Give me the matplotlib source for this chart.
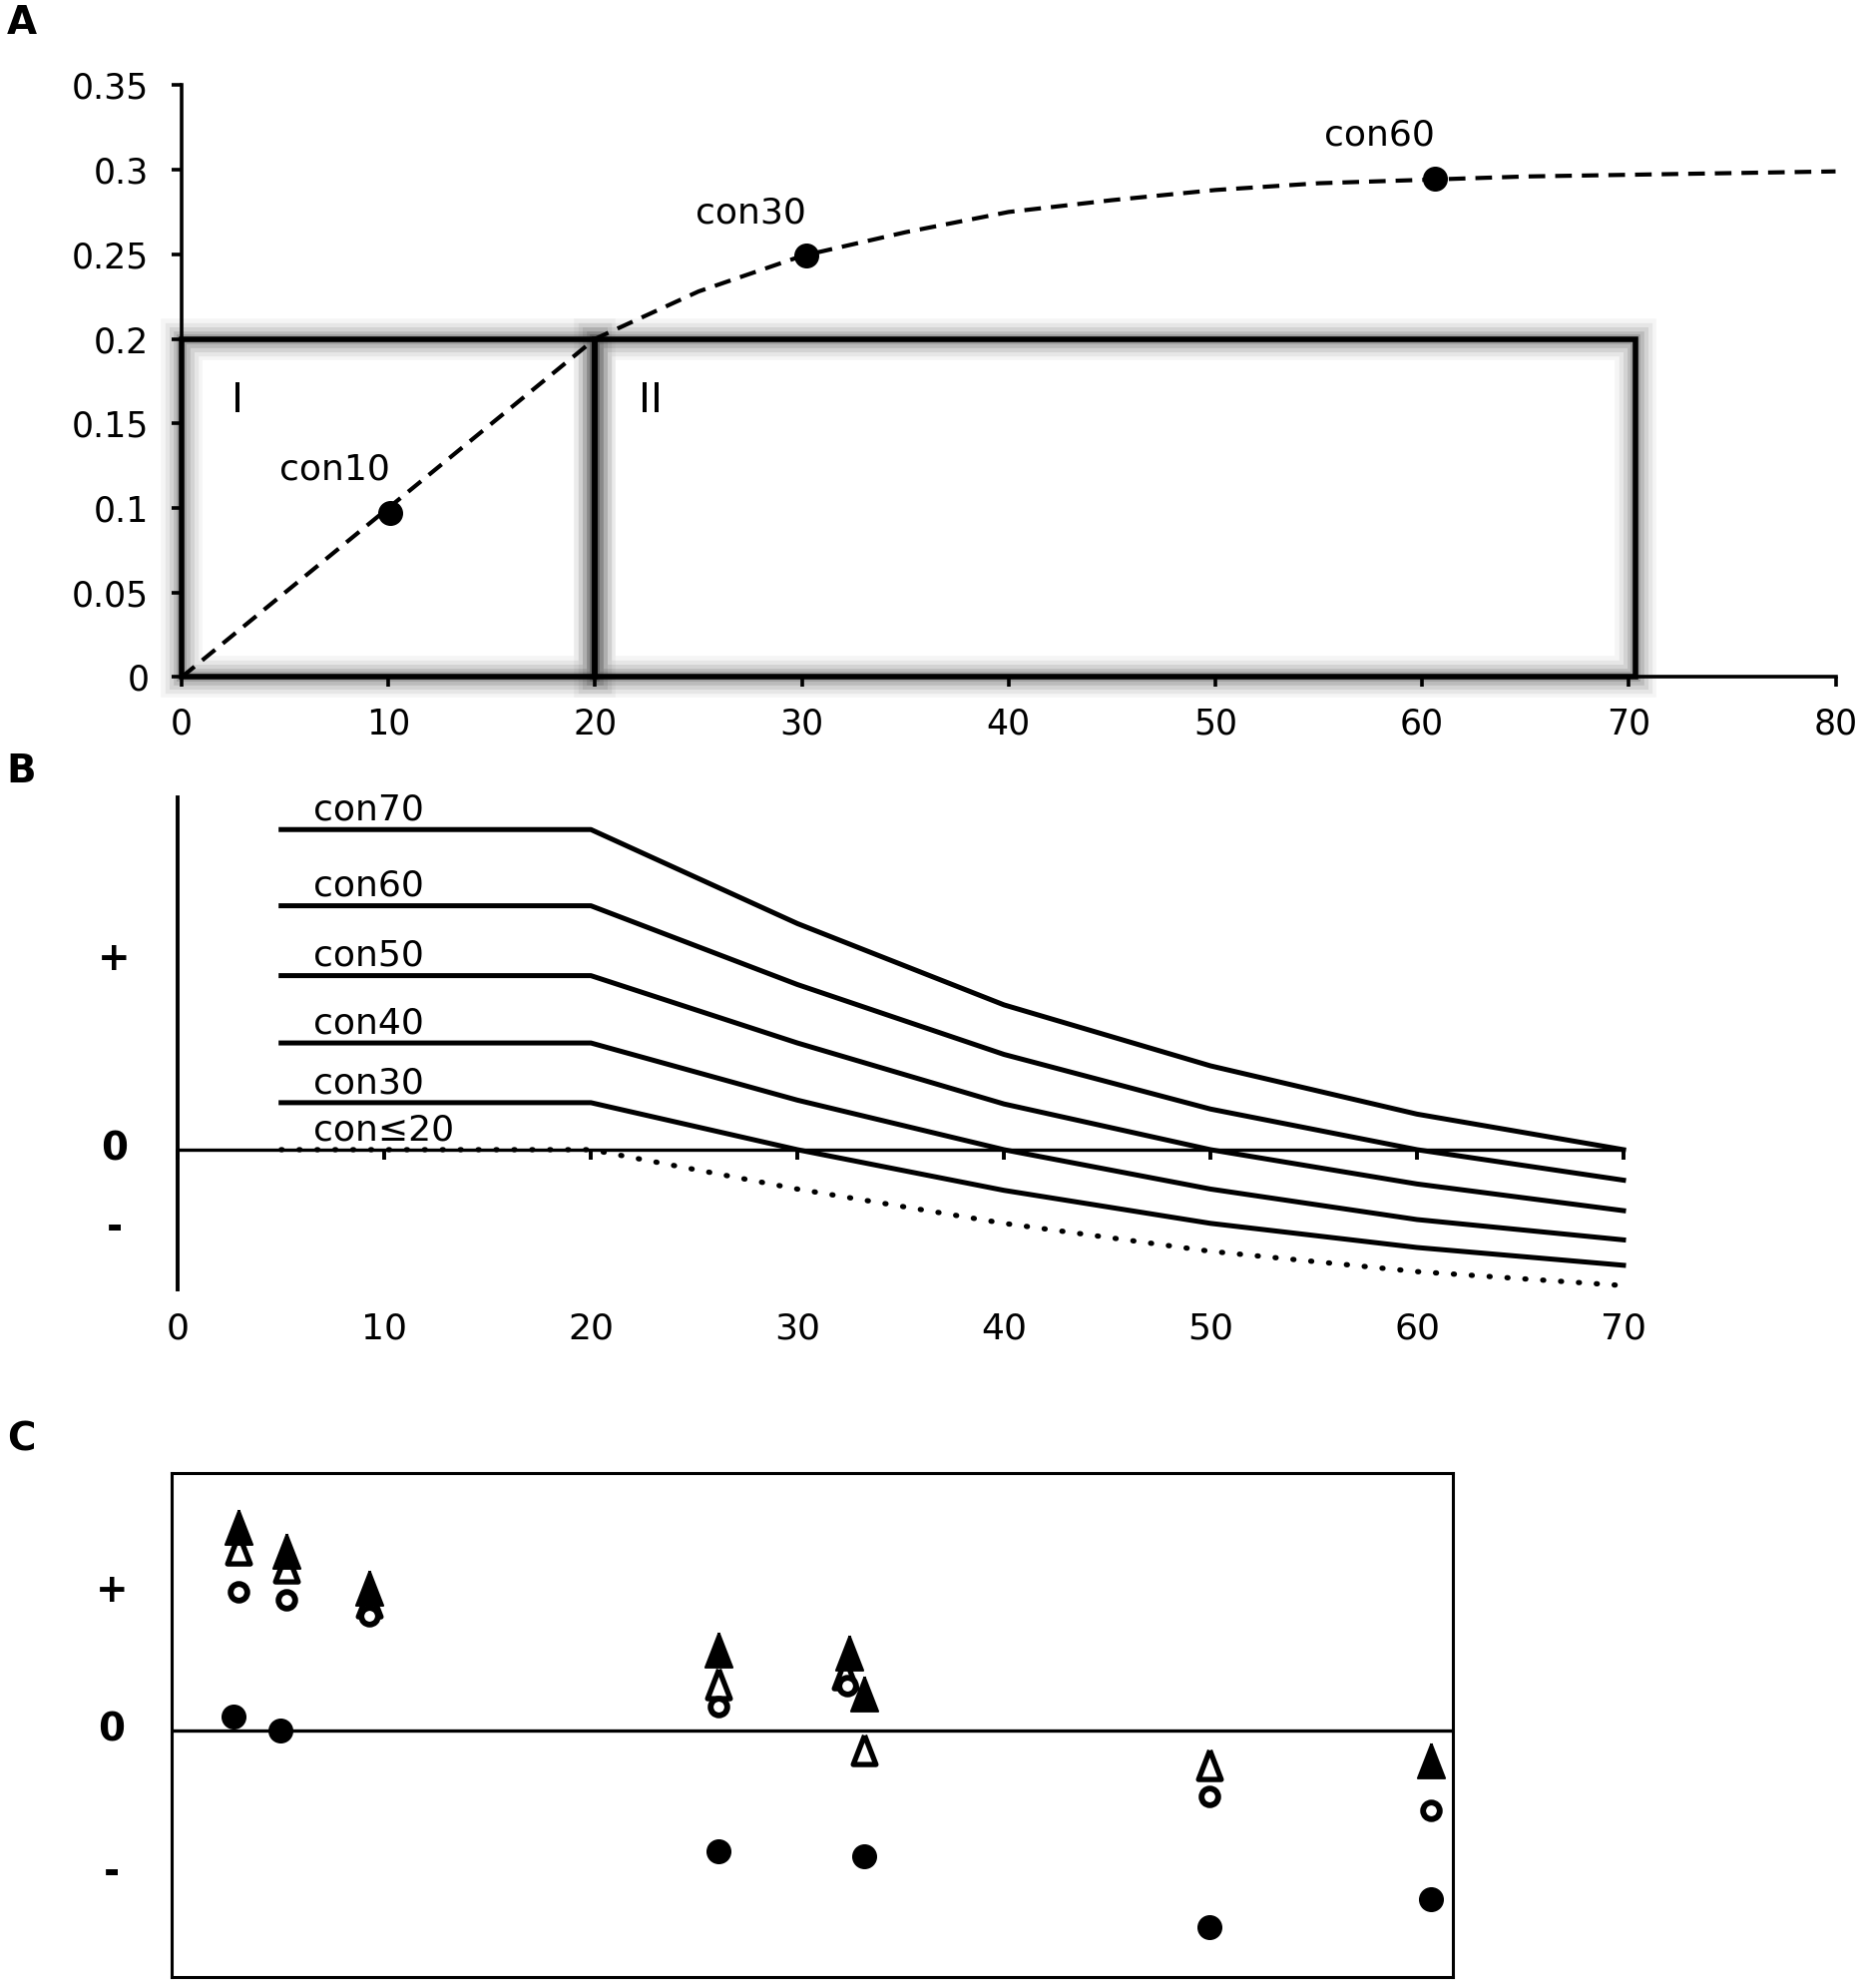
import matplotlib
matplotlib.use('Agg')
import matplotlib.pyplot as plt
import matplotlib.patheffects as pe
from matplotlib.patches import Rectangle
from matplotlib.transforms import blended_transform_factory

plt.rcParams['font.family'] = ['DejaVu Sans']

# ---------------- Panel A data ----------------
a_curve_x = [0, 5, 10, 15, 20, 25, 30, 35, 40, 45, 50, 55, 60, 65, 70, 75, 80]
a_curve_y = [0, 0.05, 0.10, 0.15, 0.20, 0.228, 0.249, 0.263, 0.275, 0.282,
             0.288, 0.292, 0.294, 0.296, 0.297, 0.298, 0.299]
a_point_labels = ['con10', 'con30', 'con60']
a_point_x = [10.1, 30.2, 60.6]
a_point_y = [0.097, 0.249, 0.295]
a_region_labels = ['I', 'II']
a_region_start = [0, 20]
a_region_end = [20, 70.3]
a_region_top = 0.2
a_xticks = [0, 10, 20, 30, 40, 50, 60, 70, 80]
a_yticks = [0, 0.05, 0.10, 0.15, 0.20, 0.25, 0.30, 0.35]
a_yticklabels = ['0', '0.05', '0.1', '0.15', '0.2', '0.25', '0.3', '0.35']

# ---------------- Panel B data ----------------
b_x = [5, 20, 30, 40, 50, 60, 70]
b_labels = ['con70', 'con60', 'con50', 'con40', 'con30', 'con≤20']
b_con70 = [25.2, 25.2, 17.8, 11.4, 6.6, 2.8, 0.0]
b_con60 = [19.2, 19.2, 13.0, 7.5, 3.2, 0.0, -2.4]
b_con50 = [13.7, 13.7, 8.4, 3.6, 0.0, -2.7, -4.8]
b_con40 = [8.4, 8.4, 3.9, 0.0, -3.1, -5.5, -7.1]
b_con30 = [3.7, 3.7, 0.0, -3.2, -5.8, -7.7, -9.1]
b_con20 = [0.0, 0.0, -3.1, -5.8, -8.0, -9.6, -10.7]
b_xticks = [0, 10, 20, 30, 40, 50, 60, 70]
b_sign_labels = ['+', '0', '-']
b_sign_y = [15.0, 0.0, -6.2]

# ---------------- Panel C data ----------------
c_ftri_x = [5.25, 9.0, 15.4, 42.7, 52.9, 54.1, 98.3]
c_ftri_y = [16.0, 14.1, 11.2, 6.35, 6.1, 2.9, -2.4]
c_otri_x = [5.25, 9.0, 15.4, 42.7, 52.6, 54.1, 81.0]
c_otri_y = [14.3, 12.9, 10.1, 3.7, 4.5, -1.5, -2.65]
c_ocirc_x = [5.25, 9.0, 15.4, 42.7, 52.7, 81.0, 98.3]
c_ocirc_y = [10.9, 10.3, 9.0, 1.9, 3.5, -5.2, -6.3]
c_fcirc_x = [4.83, 8.5, 42.7, 54.1, 81.0, 98.3]
c_fcirc_y = [1.1, 0.0, -9.5, -9.9, -15.45, -13.3]
c_sign_labels = ['+', '0', '-']
c_sign_y = [11.0, 0.0, -11.2]

W, H = 1866, 1992
fig = plt.figure(figsize=(W / 100, H / 100), dpi=100)

# ======================= Panel A =======================
axA = fig.add_axes([182 / W, 1 - 678.5 / H, (1839.5 - 182) / W, (678.5 - 85.3) / H])
axA.set_xlim(0, 80)
axA.set_ylim(0, 0.35)
for s in ['top', 'right']:
    axA.spines[s].set_visible(False)
for s in ['left', 'bottom']:
    axA.spines[s].set_linewidth(2.6)
axA.set_xticks(a_xticks)
axA.set_xticklabels([str(v) for v in a_xticks])
axA.set_yticks(a_yticks)
axA.set_yticklabels(a_yticklabels)
axA.tick_params(axis='both', direction='out', length=7.5, width=2.6, labelsize=25)
axA.tick_params(axis='x', pad=14)
axA.tick_params(axis='y', pad=16)

glow = [pe.Stroke(linewidth=30, foreground='k', alpha=0.04),
        pe.Stroke(linewidth=24, foreground='k', alpha=0.06),
        pe.Stroke(linewidth=18, foreground='k', alpha=0.08),
        pe.Stroke(linewidth=12, foreground='k', alpha=0.11),
        pe.Stroke(linewidth=7, foreground='k', alpha=0.15),
        pe.Normal()]
for x0, x1, lab in zip(a_region_start, a_region_end, a_region_labels):
    r = Rectangle((x0, 0), x1 - x0, a_region_top, fill=False, edgecolor='black',
                  linewidth=4.0, clip_on=False, zorder=2)
    r.set_path_effects(glow)
    axA.add_patch(r)
    axA.text(x0 + 2.7, 0.163, lab, fontsize=29, ha='center', va='center', zorder=4)

axA.plot(a_curve_x, a_curve_y, color='black', linewidth=3.0,
         linestyle=(0, (4.0, 2.4)), clip_on=False, zorder=3)
axA.plot(a_point_x, a_point_y, 'o', color='black', markersize=17, clip_on=False, zorder=4)
for px, py, lab in zip(a_point_x, a_point_y, a_point_labels):
    axA.annotate(lab, (px, py), xytext=(-40, 24), textcoords='offset points',
                 fontsize=26, ha='center', va='baseline')

fig.text(21.6 / W, 1 - 23 / H, 'A', fontsize=28, fontweight='bold', ha='center', va='center')

# ======================= Panel B =======================
axB = fig.add_axes([178.2 / W, 1 - 1292 / H, (1627 - 178.2) / W, (1292 - 799.4) / H])
axB.set_xlim(0, 70)
axB.set_ylim(-11.0, 27.7)
for s in ['top', 'right']:
    axB.spines[s].set_visible(False)
axB.spines['left'].set_linewidth(2.8)
axB.spines['bottom'].set_position(('data', 0))
axB.spines['bottom'].set_linewidth(2.4)
axB.set_xticks(b_xticks)
axB.set_xticklabels([str(v) for v in b_xticks])
axB.tick_params(axis='x', direction='out', length=7, width=2.8, labelsize=26, pad=110)
axB.set_yticks([])

b_series = [b_con70, b_con60, b_con50, b_con40, b_con30]
for vals, lab in zip(b_series, b_labels[:5]):
    axB.plot(b_x, vals, color='black', linewidth=3.6, clip_on=False,
             solid_joinstyle='round', zorder=3)
    axB.annotate(lab, (b_x[0], vals[0]), xytext=(23, 7), textcoords='offset points',
                 fontsize=26, ha='left', va='baseline')
axB.plot(b_x, b_con20, color='black', linewidth=3.8, clip_on=False,
         linestyle=(0, (0.2, 3.2)), dash_capstyle='round', zorder=3)
axB.annotate(b_labels[5], (b_x[0], b_con20[0]), xytext=(23, 7), textcoords='offset points',
             fontsize=26, ha='left', va='baseline')

trB = blended_transform_factory(axB.transAxes, axB.transData)
for lab, y in zip(b_sign_labels, b_sign_y):
    axB.text(-0.0439, y, lab, transform=trB, fontsize=28, fontweight='bold',
             ha='center', va='center')

fig.text(21.6 / W, 1 - 773 / H, 'B', fontsize=28, fontweight='bold', ha='center', va='center')

# ======================= Panel C =======================
axC = fig.add_axes([171.9 / W, 1 - 1981 / H, (1455.8 - 171.9) / W, (1981 - 1476) / H])
axC.set_xlim(0, 100)
axC.set_ylim(-19.4, 20.25)
for s in axC.spines.values():
    s.set_linewidth(2.2)
axC.set_xticks([])
axC.set_yticks([])
axC.axhline(0, color='black', linewidth=2.4, zorder=1)

tri = [(0, 1), (-0.78, -1), (0.78, -1), (0, 1)]
axC.plot(c_otri_x, c_otri_y, marker=tri, markersize=21, markerfacecolor='white',
         markeredgecolor='black', markeredgewidth=3.8, linestyle='none', zorder=3)
axC.plot(c_ftri_x, c_ftri_y, marker=tri, markersize=25, color='black',
         markeredgewidth=1.5, linestyle='none', zorder=4)
axC.plot(c_ocirc_x, c_ocirc_y, 'o', markersize=12, markerfacecolor='white',
         markeredgecolor='black', markeredgewidth=4.2, linestyle='none', zorder=5)
axC.plot(c_fcirc_x, c_fcirc_y, 'o', markersize=17, color='black', linestyle='none', zorder=5)

trC = blended_transform_factory(axC.transAxes, axC.transData)
for lab, y in zip(c_sign_labels, c_sign_y):
    axC.text(-0.0467, y, lab, transform=trC, fontsize=28, fontweight='bold',
             ha='center', va='center')

fig.text(21.6 / W, 1 - 1442 / H, 'C', fontsize=28, fontweight='bold', ha='center', va='center')

fig.savefig('out.png', dpi=100)
